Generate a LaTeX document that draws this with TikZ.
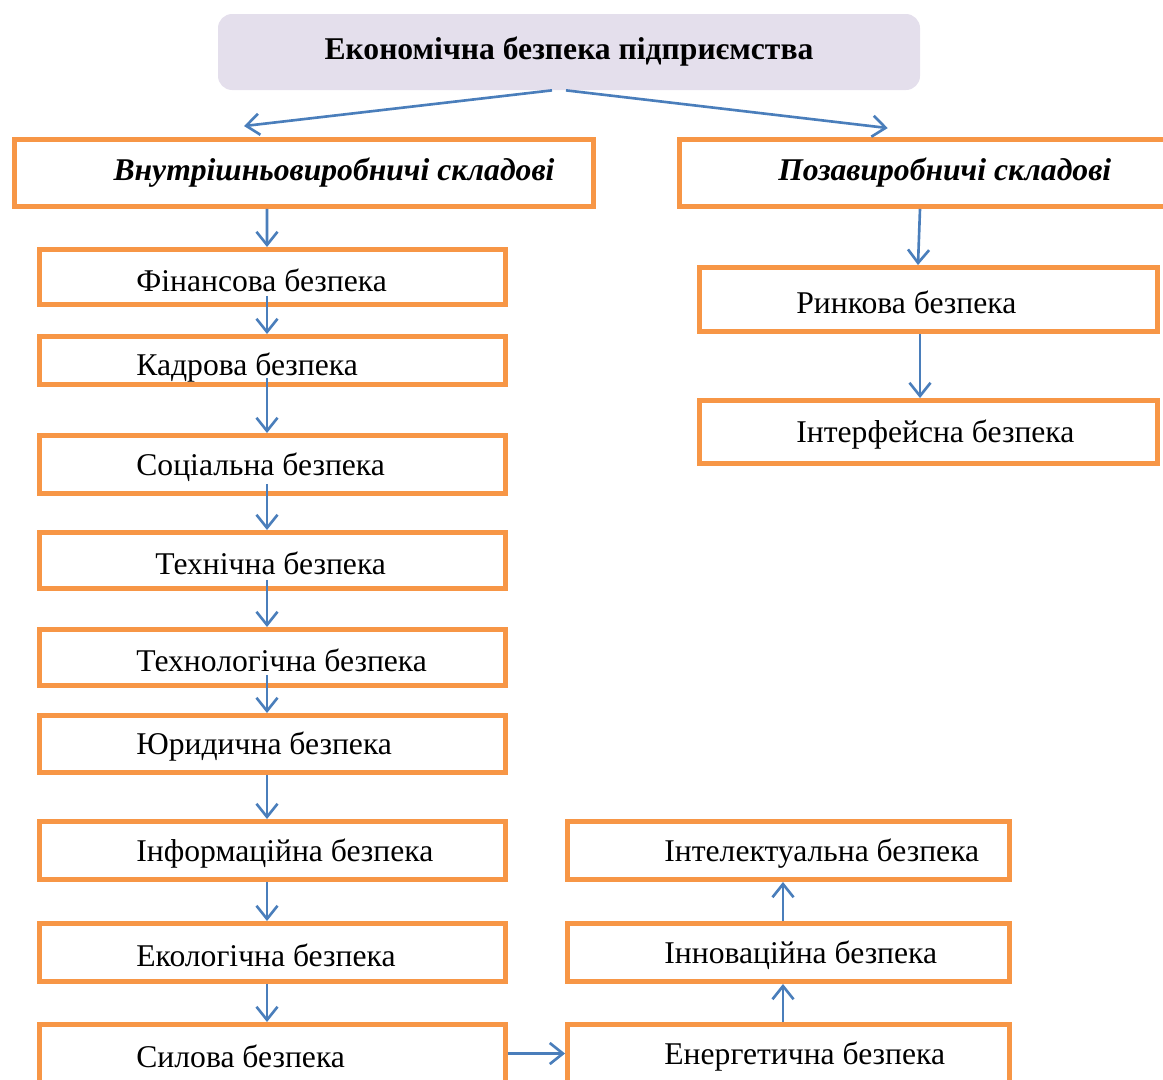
\documentclass[tikz,border=0pt]{standalone}
\usepackage{fontspec}
\setmainfont{Liberation Serif}
\usetikzlibrary{arrows.meta}

\definecolor{boxorange}{HTML}{F79646}
\definecolor{toplilac}{HTML}{E4DFEC}
\definecolor{arrblue}{HTML}{4A7EBB}

\begin{document}
\begin{tikzpicture}[
  box/.style={draw=boxorange, line width=2.8pt, minimum height=1.16cm, inner sep=0pt},
  lbl/.style={anchor=west, inner sep=0pt, yshift=-0.06cm},
  conn/.style={arrblue, line width=1.5pt, -{Straight Barb[length=7.5pt,width=12pt]}},
  font=\fontsize{18}{21}\selectfont
]
  \useasboundingbox (0,0) rectangle (23.26,-21.58);

  % Root and the two groups
  \node[fill=toplilac, rounded corners=8pt, minimum width=14.04cm, minimum height=1.52cm] (top) at (11.38,-1.04) {\textbf{Економічна безпека підприємства}};
  \node[box, minimum width=11.58cm, minimum height=1.34cm] (vn) at (6.08,-3.46) {};
  \node[box, minimum width=9.81cm, minimum height=1.34cm] (poz) at (18.495,-3.46) {};
  \node (vnT) at ([xshift=0.6cm]vn.center) {\textbf{\textit{Внутрішньовиробничі складові}}};
  \node (pozT) at ([xshift=0.4cm]poz.center) {\textbf{\textit{Позавиробничі складові}}};

  % Left column
  \node[box, minimum width=9.32cm, minimum height=1.1cm] (fin) at (5.45,-5.54) {};
  \node[box, minimum width=9.32cm, minimum height=0.96cm] (kad) at (5.45,-7.21) {};
  \node[box, minimum width=9.32cm] (soc) at (5.45,-9.29) {};
  \node[box, minimum width=9.32cm, minimum height=1.12cm] (tech) at (5.45,-11.21) {};
  \node[box, minimum width=9.32cm, minimum height=1.12cm] (tlg) at (5.45,-13.15) {};
  \node[box, minimum width=9.32cm, minimum height=1.14cm] (yur) at (5.45,-14.88) {};
  \node[box, minimum width=9.32cm] (inf) at (5.45,-17.01) {};
  \node[box, minimum width=9.32cm] (eco) at (5.45,-19.05) {};
  \node[box, minimum width=9.32cm] (sil) at (5.45,-21.07) {};

  \node[lbl] (finT) at ([xshift=1.98cm]fin.west) {Фінансова безпека};
  \node[lbl, yshift=-0.08cm] (kadT) at ([xshift=1.98cm]kad.west) {Кадрова безпека};
  \node[lbl] (socT) at ([xshift=1.98cm]soc.west) {Соціальна безпека};
  \node[lbl] (techT) at ([xshift=2.36cm]tech.west) {Технічна безпека};
  \node[lbl] (tlgT) at ([xshift=1.98cm]tlg.west) {Технологічна безпека};
  \node[lbl] (yurT) at ([xshift=1.98cm]yur.west) {Юридична безпека};
  \node[lbl] (infT) at ([xshift=1.98cm]inf.west) {Інформаційна безпека};
  \node[lbl] (ecoT) at ([xshift=1.98cm]eco.west) {Екологічна безпека};
  \node[lbl] (silT) at ([xshift=1.98cm]sil.west) {Силова безпека};

  % Right column
  \node[box, minimum width=9.16cm, minimum height=1.28cm] (rin) at (18.57,-5.99) {};
  \node[box, minimum width=9.16cm, minimum height=1.26cm] (itf) at (18.57,-8.64) {};
  \node[lbl] (rinT) at ([xshift=1.98cm]rin.west) {Ринкова безпека};
  \node[lbl] (itfT) at ([xshift=1.98cm]itf.west) {Інтерфейсна безпека};

  % Bottom right
  \node[box, minimum width=8.84cm] (intl) at (15.77,-17.01) {};
  \node[box, minimum width=8.84cm] (inn) at (15.77,-19.05) {};
  \node[box, minimum width=8.84cm] (en) at (15.77,-21.07) {};
  \node[lbl] (intlT) at ([xshift=1.98cm]intl.west) {Інтелектуальна безпека};
  \node[lbl] (innT) at ([xshift=1.98cm]inn.west) {Інноваційна безпека};
  \node[lbl] (enT) at ([xshift=1.98cm]en.west) {Енергетична безпека};

  % Connectors
  \draw[conn] ([xshift=-0.34cm]top.south) -- ([xshift=-1.2cm,yshift=0.22cm]vn.north);
  \draw[conn] ([xshift=-0.06cm]top.south) -- ([xshift=-0.74cm,yshift=0.18cm]poz.north);

  \draw[conn] ([xshift=-0.74cm]vn.south) -- ([xshift=-0.11cm]fin.north);
  \draw[conn] ([xshift=-0.11cm,yshift=0.22cm]fin.south) -- ([xshift=-0.11cm]kad.north);
  \draw[conn] ([xshift=-0.11cm,yshift=0.18cm]kad.south) -- ([xshift=-0.11cm]soc.north);
  \draw[conn] ([xshift=-0.11cm,yshift=0.24cm]soc.south) -- ([xshift=-0.11cm]tech.north);
  \draw[conn] ([xshift=-0.11cm,yshift=0.22cm]tech.south) -- ([xshift=-0.11cm]tlg.north);
  \draw[conn] ([xshift=-0.11cm,yshift=0.26cm]tlg.south) -- ([xshift=-0.11cm]yur.north);
  \draw[conn] ([xshift=-0.11cm]yur.south) -- ([xshift=-0.11cm]inf.north);
  \draw[conn] ([xshift=-0.11cm]inf.south) -- ([xshift=-0.11cm]eco.north);
  \draw[conn] ([xshift=-0.11cm]eco.south) -- ([xshift=-0.11cm]sil.north);

  \draw[conn] ([xshift=-0.095cm]poz.south) -- ([xshift=-0.21cm]rin.north);
  \draw[conn] ([xshift=-0.17cm]rin.south) -- ([xshift=-0.17cm]itf.north);

  \draw[conn] (sil.east) -- (en.west);
  \draw[conn] ([xshift=-0.11cm]en.north) -- ([xshift=-0.11cm]inn.south);
  \draw[conn] ([xshift=-0.11cm]inn.north) -- ([xshift=-0.11cm]intl.south);
\end{tikzpicture}
\end{document}
